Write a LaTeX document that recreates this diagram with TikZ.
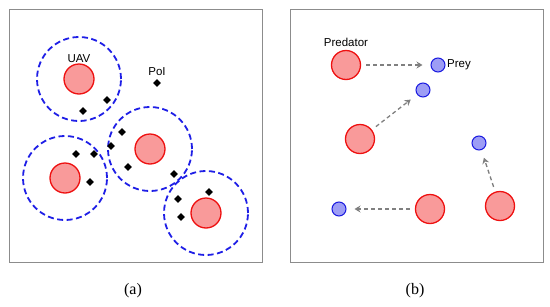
\documentclass[tikz,border=0pt]{standalone}
\usepackage{fontspec}
\setmainfont{Liberation Serif}
\setsansfont{Liberation Sans}
\usetikzlibrary{shapes.geometric,arrows.meta,positioning}

\definecolor{uavfill}{HTML}{F99A9A}
\definecolor{uavline}{HTML}{EE1111}
\definecolor{rangeline}{HTML}{1F1FE6}
\definecolor{preyfill}{HTML}{9D9DF5}
\definecolor{preyline}{HTML}{1A1AE0}
\definecolor{framegray}{HTML}{8C8C8C}

\begin{document}
\begin{tikzpicture}[x=1pt,y=-1pt,
  uav/.style={circle,draw=uavline,fill=uavfill,line width=1.3pt,minimum size=30pt,inner sep=0pt},
  sensor/.style={circle,draw=rangeline,line width=1.8pt,dash pattern=on 6pt off 3.5pt,minimum size=84pt,inner sep=0pt},
  poi/.style={diamond,fill=black,minimum size=8pt,inner sep=0pt},
  prey/.style={circle,draw=preyline,fill=preyfill,line width=1pt,minimum size=14pt,inner sep=0pt},
  chase/.style={draw=gray,line width=1.3pt,dash pattern=on 4pt off 3pt,-{Stealth[length=6pt,width=7pt,inset=2pt]},shorten <=5pt,shorten >=8pt},
  lbl/.style={font=\sffamily\fontsize{11.5}{13}\selectfont,inner sep=1pt},
  panel/.style={draw=framegray,line width=0.6pt}]
\useasboundingbox (0,0) rectangle (550,306);

% (a) coverage
\draw[panel] (9,9) rectangle (262,262);
\node[sensor] (r1) at (79,79) {};
\node[sensor] (r2) at (65,178) {};
\node[sensor] (r3) at (150,149) {};
\node[sensor] (r4) at (206,213) {};
\node[uav] (u1) at (79,79) {};
\node[uav] (u2) at (65,178) {};
\node[uav] (u3) at (150,149) {};
\node[uav] (u4) at (206,213) {};
\node[lbl,above=0pt of u1] (uavlbl) {UAV};

\node[poi] (p0) at (157,83) {};
\node[lbl,above=2pt of p0] (poilbl) {PoI};
\node[poi] (p1) at (107,100) {};
\node[poi] (p2) at (83,111) {};
\node[poi] (p3) at (122,132) {};
\node[poi] (p4) at (111,146) {};
\node[poi] (p5) at (76,154) {};
\node[poi] (p6) at (94,154) {};
\node[poi] (p7) at (128,167) {};
\node[poi] (p8) at (90,182) {};
\node[poi] (p9) at (174,174) {};
\node[poi] (p10) at (209,192) {};
\node[poi] (p11) at (178,199) {};
\node[poi] (p12) at (181,217) {};

% (b) pursuit
\draw[panel] (290,9) rectangle (543,262);
\node[uav,minimum size=29pt] (h1) at (346,65) {};
\node[uav,minimum size=29pt] (h2) at (360,139) {};
\node[uav,minimum size=29pt] (h3) at (500,206) {};
\node[uav,minimum size=29pt] (h4) at (430,209) {};
\node[lbl,above=2pt of h1] (predlbl) {Predator};
\node[prey] (y1) at (438,65) {};
\node[prey] (y2) at (423,90) {};
\node[prey] (y3) at (479,143) {};
\node[prey] (y4) at (339,209) {};
\node[lbl,right=0.5pt of y1] (preylbl) {Prey};
\draw[chase] (h1) -- (y1);
\draw[chase] (h2) -- (y2);
\draw[chase] (h3) -- (y3);
\draw[chase] (h4) -- (y4);

\node[font=\fontsize{16}{18}\selectfont] (capa) at (133,291) {(a)};
\node[font=\fontsize{16}{18}\selectfont] (capb) at (415,291) {(b)};
\end{tikzpicture}
\end{document}
